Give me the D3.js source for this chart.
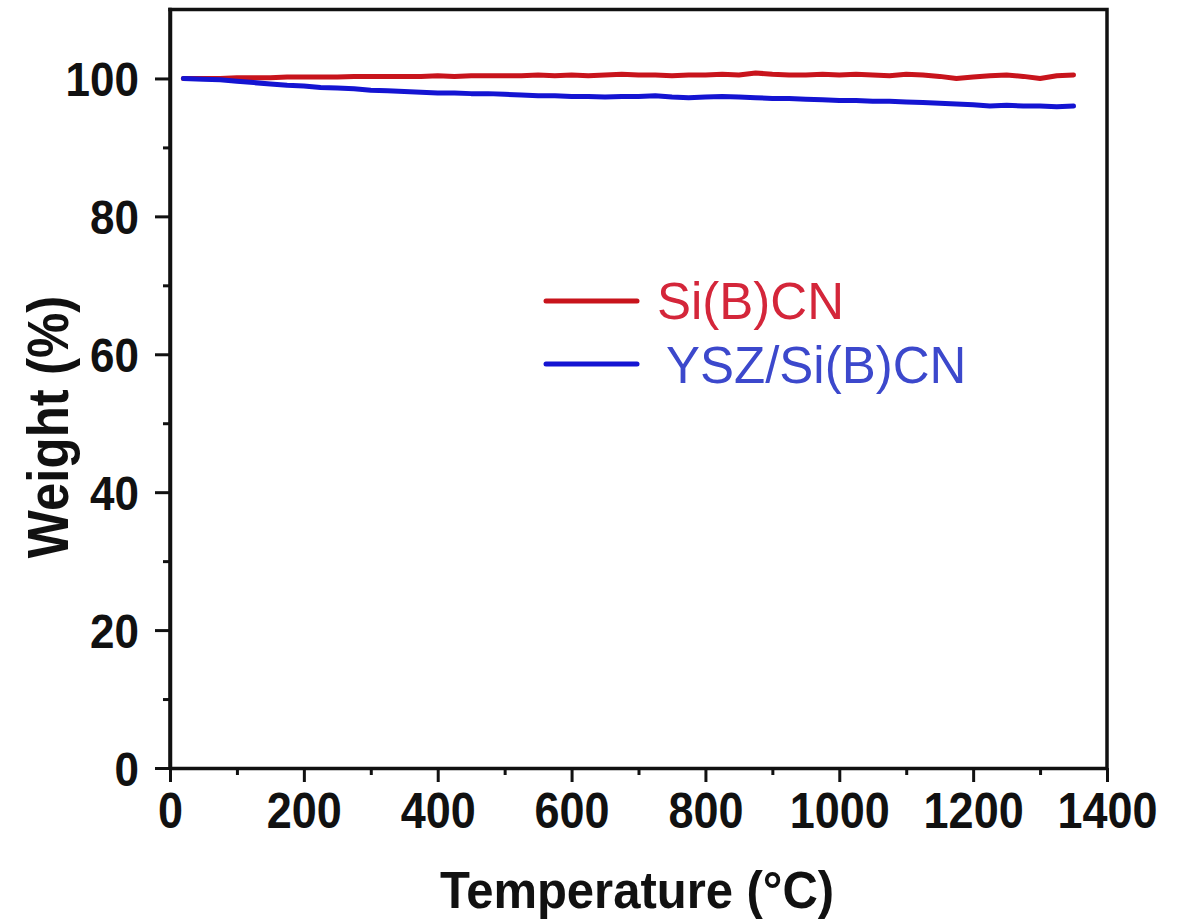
<!DOCTYPE html>
<html>
<head>
<meta charset="utf-8">
<script src="https://cdn.jsdelivr.net/npm/d3@7"></script>
<style>
  html, body { margin: 0; padding: 0; background: #fff; }
  svg { display: block; }
</style>
</head>
<body>
<svg id="chart" width="1189" height="923"></svg>
<script>
// TGA curves: weight retention vs temperature
const temperature = [
  20, 50, 75, 100, 125, 150, 175, 200, 225, 250,
  275, 300, 325, 350, 375, 400, 425, 450, 475, 500,
  525, 550, 575, 600, 625, 650, 675, 700, 725, 750,
  775, 800, 825, 850, 875, 900, 925, 950, 975, 1000,
  1025, 1050, 1075, 1100, 1125, 1150, 1175, 1200, 1225, 1250,
  1275, 1300, 1325, 1350
];
const weightSiBCN = [
  100.0, 100.0, 100.0, 100.1, 100.1, 100.1, 100.2, 100.2, 100.2, 100.2,
  100.3, 100.3, 100.3, 100.3, 100.3, 100.4, 100.3, 100.4, 100.4, 100.4,
  100.4, 100.5, 100.4, 100.5, 100.4, 100.5, 100.6, 100.5, 100.5, 100.4,
  100.5, 100.5, 100.6, 100.5, 100.8, 100.6, 100.5, 100.5, 100.6, 100.5,
  100.6, 100.5, 100.4, 100.6, 100.5, 100.3, 100.0, 100.2, 100.4, 100.5,
  100.3, 100.0, 100.4, 100.5
];
const weightYSZ = [
  100.0, 99.9, 99.8, 99.6, 99.4, 99.2, 99.0, 98.9, 98.7, 98.6,
  98.5, 98.3, 98.2, 98.1, 98.0, 97.9, 97.9, 97.8, 97.8, 97.7,
  97.6, 97.5, 97.5, 97.4, 97.4, 97.3, 97.4, 97.4, 97.5, 97.3,
  97.2, 97.3, 97.4, 97.3, 97.2, 97.1, 97.1, 97.0, 96.9, 96.8,
  96.8, 96.7, 96.7, 96.6, 96.5, 96.4, 96.3, 96.2, 96.0, 96.1,
  96.0, 96.0, 95.9, 96.0
];
const seriesNames = ["Si(B)CN", "YSZ/Si(B)CN"];
const xTicks = [0, 200, 400, 600, 800, 1000, 1200, 1400];
const xMinorTicks = [100, 300, 500, 700, 900, 1100, 1300];
const yTicks = [0, 20, 40, 60, 80, 100];
const yMinorTicks = [10, 30, 50, 70, 90];

const lineColors = ["#c8141c", "#1414d2"];
const textColors = ["#d4263a", "#3c48cc"];

const svg = d3.select("#chart");
const plotLeft = 170, plotRight = 1107, plotTop = 9.5, plotBottom = 768;

const x = d3.scaleLinear().domain([0, 1400]).range([plotLeft, plotRight]);
const y = d3.scaleLinear().domain([0, 110]).range([plotBottom, plotTop]);

const fontMain = "'Liberation Sans', Arial, sans-serif";

// curves
const series = [weightSiBCN, weightYSZ];
const line = d3.line()
  .x((d, i) => x(temperature[i]))
  .y(d => y(d));

series.forEach((vals, k) => {
  svg.append("path")
    .datum(vals)
    .attr("d", line)
    .attr("fill", "none")
    .attr("stroke", lineColors[k])
    .attr("stroke-width", 5)
    .attr("stroke-linejoin", "round")
    .attr("stroke-linecap", "round");
});

// axes
function styleAxis(g) {
  g.select(".domain").attr("stroke", "#111").attr("stroke-width", 3.5);
  g.selectAll(".tick line").attr("stroke", "#111").attr("stroke-width", 3);
}

const xAxis = svg.append("g")
  .attr("transform", `translate(0,${plotBottom})`)
  .call(d3.axisBottom(x).tickValues(xTicks).tickSize(14).tickSizeOuter(0).tickFormat(d3.format("d")));
styleAxis(xAxis);
xAxis.selectAll(".tick text")
  .attr("y", null).attr("dy", null)
  .attr("transform", "translate(0,60) scale(1,1.1)")
  .attr("fill", "#111")
  .style("font-family", fontMain)
  .style("font-weight", "bold")
  .style("font-size", "45px");

const xMinor = svg.append("g")
  .attr("transform", `translate(0,${plotBottom})`)
  .call(d3.axisBottom(x).tickValues(xMinorTicks).tickSize(7).tickSizeOuter(0).tickFormat(""));
xMinor.select(".domain").remove();
xMinor.selectAll(".tick line").attr("stroke", "#111").attr("stroke-width", 3);

const yAxis = svg.append("g")
  .attr("transform", `translate(${plotLeft},0)`)
  .call(d3.axisLeft(y).tickValues(yTicks).tickSize(15).tickSizeOuter(0).tickFormat(d3.format("d")));
styleAxis(yAxis);
yAxis.selectAll(".tick text")
  .attr("x", null).attr("dy", null)
  .attr("transform", "translate(-31,17) scale(1,1.1)")
  .attr("fill", "#111")
  .style("font-family", fontMain)
  .style("font-weight", "bold")
  .style("font-size", "44px");

const yMinor = svg.append("g")
  .attr("transform", `translate(${plotLeft},0)`)
  .call(d3.axisLeft(y).tickValues(yMinorTicks).tickSize(7).tickSizeOuter(0).tickFormat(""));
yMinor.select(".domain").remove();
yMinor.selectAll(".tick line").attr("stroke", "#111").attr("stroke-width", 3);

// frame: top and right borders
svg.append("path")
  .attr("d", d3.line()([[x(0), y(110)], [x(1400), y(110)], [x(1400), y(0)]]))
  .attr("fill", "none")
  .attr("stroke", "#111")
  .attr("stroke-width", 3.5)
  .attr("stroke-linecap", "square");
svg.append("line")
  .attr("x1", x(0)).attr("x2", x(0)).attr("y1", y(110)).attr("y2", y(0))
  .attr("stroke", "#111").attr("stroke-width", 3.5).attr("stroke-linecap", "square");

// axis titles
svg.append("text")
  .attr("transform", "translate(637,908) scale(1,1.05)")
  .attr("text-anchor", "middle")
  .attr("fill", "#111")
  .style("font-family", fontMain)
  .style("font-weight", "bold")
  .style("font-size", "49px")
  .text("Temperature (°C)");

svg.append("text")
  .attr("transform", "translate(68,427) rotate(-90) scale(1,1.12)")
  .attr("text-anchor", "middle")
  .attr("fill", "#111")
  .style("font-family", fontMain)
  .style("font-weight", "bold")
  .style("font-size", "51px")
  .text("Weight (%)");

// legend
const legendRows = [
  { y: 301, text: 319, tx: 657 },
  { y: 364, text: 383, tx: 666 }
];
seriesNames.forEach((name, k) => {
  const r = legendRows[k];
  svg.append("line")
    .attr("x1", 546).attr("x2", 637)
    .attr("y1", r.y).attr("y2", r.y)
    .attr("stroke", lineColors[k])
    .attr("stroke-width", 5)
    .attr("stroke-linecap", "round");
  svg.append("text")
    .attr("x", r.tx).attr("y", r.text)
    .attr("fill", textColors[k])
    .style("font-family", fontMain)
    .style("font-size", "51px")
    .text(name);
});
</script>
</body>
</html>
